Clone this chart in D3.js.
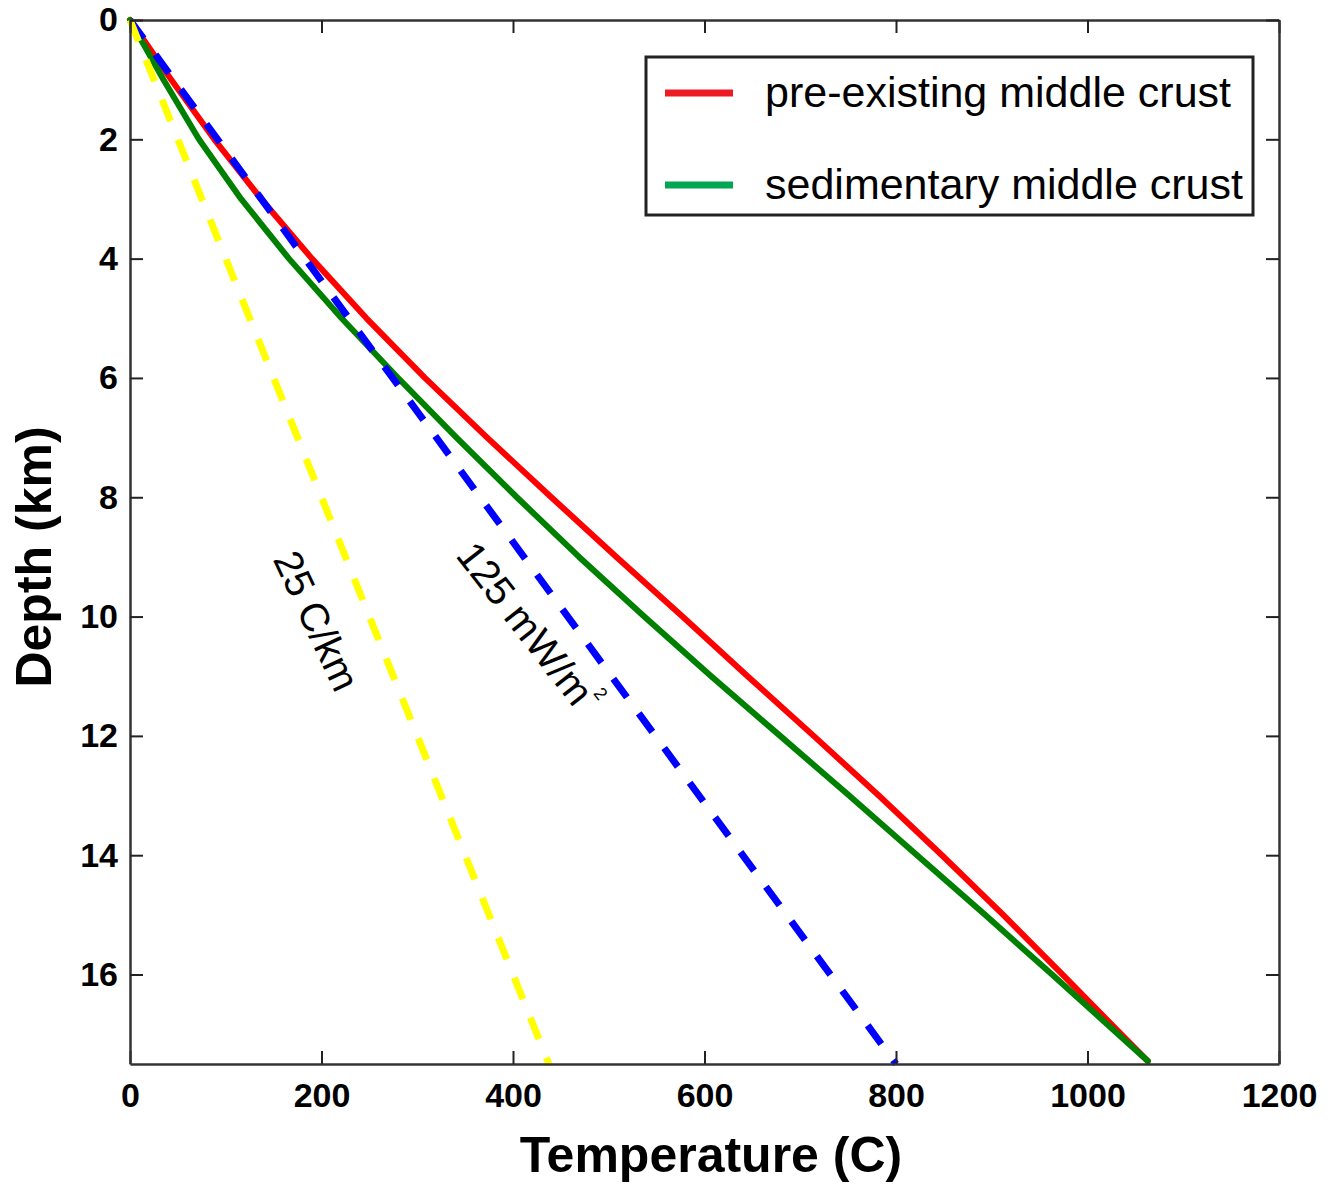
<!DOCTYPE html>
<html>
<head>
<meta charset="utf-8">
<script src="https://cdn.jsdelivr.net/npm/d3@7"></script>
<style>
  html, body { margin: 0; padding: 0; background: #fff; }
  svg { display: block; font-family: "Liberation Sans", Arial, Helvetica, sans-serif; }
</style>
</head>
<body>
<div id="chart"></div>
<script>
// Geotherms: temperature (C) against depth (km)
const depthKm = [0, 1, 2, 3, 4, 5, 6, 7, 8, 9, 10, 11, 12, 13, 14, 15, 16, 17, 17.45];
const preExistingTemp = [0, 43, 88, 137, 190, 247, 308, 373, 440, 508, 577, 645, 714, 782, 848, 912, 974, 1035, 1063];
const sedimentaryTemp = [0, 35, 72, 116, 166, 221, 280, 341, 404, 469, 537, 607, 679, 751, 822, 893, 963, 1032, 1063];

// Reference geotherms (end points)
const heatFlowDepth = [0, 17.5];
const heatFlowTemp = [0, 800];       // 125 mW/m^2
const gradientDepth = [0, 17.5];
const gradientTemp = [0, 437.5];     // 25 C/km

const xTicks = [0, 200, 400, 600, 800, 1000, 1200];
const yTicks = [0, 2, 4, 6, 8, 10, 12, 14, 16];

const legendLabels = ["pre-existing middle crust", "sedimentary middle crust"];

const W = 1342, H = 1184;
const plotLeft = 130, plotRight = 1279, plotTop = 20, plotBottom = 1064;

const svg = d3.select("#chart").append("svg").attr("width", W).attr("height", H);

const x = d3.scaleLinear().domain([0, 1200]).range([plotLeft, plotRight]);
const y = d3.scaleLinear().domain([0, 17.5]).range([plotTop, plotBottom]);

const line = d3.line().x(d => x(d[0])).y(d => y(d[1]));
const zip = (t, z) => t.map((v, i) => [v, z[i]]);

// Profiles
svg.append("path")
  .attr("d", line(zip(preExistingTemp, depthKm)))
  .attr("fill", "none").attr("stroke", "#ff0000").attr("stroke-width", 6)
  .attr("stroke-linejoin", "round").attr("stroke-linecap", "round");

svg.append("path")
  .attr("d", line(zip(sedimentaryTemp, depthKm)))
  .attr("fill", "none").attr("stroke", "#008000").attr("stroke-width", 6)
  .attr("stroke-linejoin", "round").attr("stroke-linecap", "round");

svg.append("path")
  .attr("d", line(zip(heatFlowTemp, heatFlowDepth)))
  .attr("fill", "none").attr("stroke", "#0000ff").attr("stroke-width", 7)
  .attr("stroke-dasharray", "23,20");

svg.append("path")
  .attr("d", line(zip(gradientTemp, gradientDepth)))
  .attr("fill", "none").attr("stroke", "#ffff00").attr("stroke-width", 7)
  .attr("stroke-dasharray", "23,20");

// Axes with inward ticks on all four sides
const styleAxis = g => {
  g.select(".domain").attr("stroke", "#333").attr("stroke-width", 2.5);
  g.selectAll(".tick line").attr("stroke", "#222").attr("stroke-width", 2);
  g.selectAll(".tick text")
    .attr("fill", "#000").attr("font-size", 34).attr("font-weight", "bold")
    .attr("font-family", "'Liberation Sans', Arial, sans-serif");
};

svg.append("g").attr("transform", `translate(0,${plotBottom})`)
  .call(d3.axisBottom(x).tickValues(xTicks).tickFormat(d3.format("d"))
    .tickSize(-13).tickSizeOuter(0).tickPadding(19))
  .call(styleAxis);
svg.append("g").attr("transform", `translate(0,${plotTop})`)
  .call(d3.axisTop(x).tickValues(xTicks).tickSize(-13).tickSizeOuter(0).tickFormat(""))
  .call(styleAxis);
svg.append("g").attr("transform", `translate(${plotLeft},0)`)
  .call(d3.axisLeft(y).tickValues(yTicks).tickFormat(d3.format("d"))
    .tickSize(-13).tickSizeOuter(0).tickPadding(12))
  .call(styleAxis);
svg.append("g").attr("transform", `translate(${plotRight},0)`)
  .call(d3.axisRight(y).tickValues(yTicks).tickSize(-13).tickSizeOuter(0).tickFormat(""))
  .call(styleAxis);

// Axis titles
svg.append("text")
  .attr("x", 711).attr("y", 1172)
  .attr("text-anchor", "middle").attr("font-size", 50).attr("font-weight", "bold")
  .text("Temperature (C)");

svg.append("text")
  .attr("transform", `translate(51,557) rotate(-90)`)
  .attr("text-anchor", "middle").attr("font-size", 50).attr("font-weight", "bold")
  .text("Depth (km)");

// Line annotations
svg.append("text")
  .attr("transform", `translate(${x(195)},${y(10.07)}) rotate(65)`)
  .attr("text-anchor", "middle").attr("dominant-baseline", "central")
  .attr("font-size", 40)
  .text("25 C/km");

const hf = svg.append("text")
  .attr("transform", `translate(${x(416)},${y(10.18)}) rotate(52)`)
  .attr("text-anchor", "middle").attr("dominant-baseline", "central")
  .attr("font-size", 40);
hf.append("tspan").text("125 mW/m");
hf.append("tspan").attr("font-size", 18).attr("dy", -16).text("2");

// Legend
const legend = svg.append("g");
legend.append("rect")
  .attr("x", 646).attr("y", 57).attr("width", 607).attr("height", 158)
  .attr("fill", "#fff").attr("stroke", "#222").attr("stroke-width", 3);

const legendColors = ["#ed1c24", "#00a651"];
const legendY = [93, 185];
legendLabels.forEach((lab, i) => {
  legend.append("line")
    .attr("x1", 665).attr("x2", 733).attr("y1", legendY[i]).attr("y2", legendY[i])
    .attr("stroke", legendColors[i]).attr("stroke-width", 7);
  legend.append("text")
    .attr("x", 765).attr("y", legendY[i] + 14)
    .attr("font-size", 43).attr("fill", "#000")
    .text(lab);
});
</script>
</body>
</html>
